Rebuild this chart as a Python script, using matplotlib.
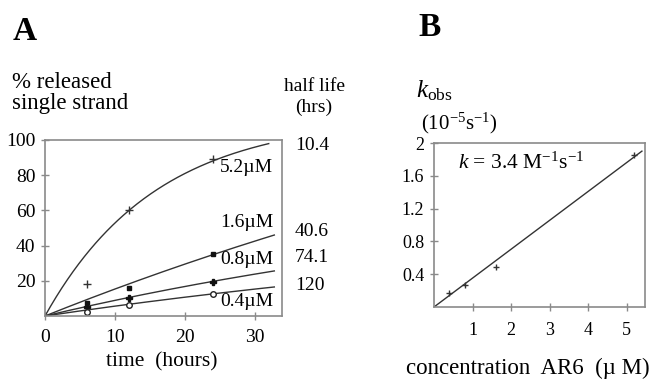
import numpy as np
import matplotlib
matplotlib.use("Agg")
import matplotlib.pyplot as plt

plt.rcParams['font.family'] = ['Liberation Serif', 'DejaVu Serif']
plt.rcParams['mathtext.fontset'] = 'custom'
plt.rcParams['mathtext.rm'] = 'Liberation Serif'
plt.rcParams['mathtext.it'] = 'Liberation Serif:italic'
plt.rcParams['mathtext.bf'] = 'Liberation Serif:bold'

# ---- Panel A data ----
conc_labels = ["5.2\u00b5M", "1.6\u00b5M", "0.8\u00b5M", "0.4\u00b5M"]
half_lives = ["10.4", "40.6", "74.1", "120"]
time_pts = [6, 12, 24]
released_52 = [18, 60, 89]
released_16 = [7.5, 16, 35]
released_08 = [5, 10, 19.5]
released_04 = [2.5, 6.5, 12.5]
# fitted curve parameters: amplitude, rate (1/h), end time
fit_52 = (113, 0.063, 32.0)
fit_16 = (200, 0.00797, 32.8)
fit_08 = (80, 0.01176, 32.8)
fit_04 = (60, 0.0098, 32.8)

# ---- Panel B data ----
conc_B = [0.4, 0.8, 1.6, 5.2]
kobs_B = [0.17, 0.27, 0.49, 1.85]
slope_B = 0.352
line_end_B = 5.4

W, H = 650, 379
fig = plt.figure(figsize=(6.5, 3.79), dpi=100)

def P(x, y):
    return (x / W, 1 - y / H)

def ax_rect(l, t, r, b):
    return [l / W, 1 - b / H, (r - l) / W, (b - t) / H]

spine_col = '#8a8a8a'
line_col = '#333333'

# ---------------- Panel A ----------------
axA = fig.add_axes(ax_rect(45, 140, 282, 316))
axA.set_xlim(0, 33.9)
axA.set_ylim(0, 100)
for s in axA.spines.values():
    s.set_color(spine_col)
    s.set_linewidth(1.2)

series = [
    (released_52, fit_52, dict(marker='+', ms=6, mew=1.0, color=line_col)),
    (released_16, fit_16, dict(marker='s', ms=3.5, color='#111111')),
    (released_08, fit_08, dict(marker='P', ms=4.5, color='#111111')),
    (released_04, fit_04, dict(marker='o', ms=4, mfc='white', mec='#222222', mew=1.0)),
]
for vals, (A, k, tend), mk in series:
    t = np.linspace(0, tend, 200)
    axA.plot(t, A * (1 - np.exp(-k * t)), color=line_col, lw=1.0)
    axA.plot(time_pts, vals, ls='none', **mk)

axA.set_xticks([0, 10, 20, 30])
axA.set_yticks([20, 40, 60, 80, 100])
axA.tick_params(direction='inout', length=6, width=1.0, color=spine_col,
                labelsize=14, pad=4)
axA.tick_params(axis='x', pad=6)

lbl_y = [168, 222, 259, 302]
for txt, yy in zip(conc_labels, lbl_y):
    fig.text(*P(273, yy), txt, fontsize=14, ha='right', va='center')
hl_y = [146, 232, 258, 285]
for txt, yy in zip(half_lives, hl_y):
    fig.text(*P(295, yy), txt, fontsize=14, ha='left', va='center')

fig.text(*P(13, 31), "A", fontsize=24, fontweight='bold', ha='left', va='center')
fig.text(*P(12, 93), "% released\nsingle strand", fontsize=16.5, ha='left',
         va='center', linespacing=0.95)
fig.text(*P(314, 97), "half life\n(hrs)", fontsize=14, ha='center',
         va='center', linespacing=1.3)
fig.text(*P(162, 362), "time  (hours)", fontsize=15.5, ha='center', va='center')

# ---------------- Panel B ----------------
axB = fig.add_axes(ax_rect(434, 143, 645, 307))
axB.set_xlim(0, 5.48)
axB.set_ylim(0, 2)
for s in axB.spines.values():
    s.set_color(spine_col)
    s.set_linewidth(1.2)
xl = np.array([0, line_end_B])
axB.plot(xl, slope_B * xl, color=line_col, lw=1.0)
axB.plot(conc_B, kobs_B, ls='none', marker='+', ms=5, mew=1.0, color=line_col)
axB.set_xticks([1, 2, 3, 4, 5])
axB.set_yticks([0.4, 0.8, 1.2, 1.6, 2])
axB.set_yticklabels(["0.4", "0.8", "1.2", "1.6", "2"])
axB.tick_params(direction='inout', length=6, width=1.0, color=spine_col,
                labelsize=13, pad=4)
axB.tick_params(axis='x', pad=8)

fig.text(*P(418, 28), "B", fontsize=24, fontweight='bold', ha='left', va='center')
fig.text(*P(416, 91), r"$\mathit{k}_{\mathrm{obs}}$", fontsize=18, ha='left', va='center')
fig.text(*P(421, 123), r"(10$^{-5}$s$^{-1}$)", fontsize=15, ha='left', va='center')
fig.text(*P(458, 163), r"$\mathbf{\mathit{k}}$ = 3.4 M$^{-1}$s$^{-1}$", fontsize=15.5,
         ha='left', va='center')
fig.text(*P(406, 368), "concentration  AR6  (\u00b5 M)", fontsize=16.5, ha='left',
         va='center')

fig.savefig("out.png", dpi=100)
